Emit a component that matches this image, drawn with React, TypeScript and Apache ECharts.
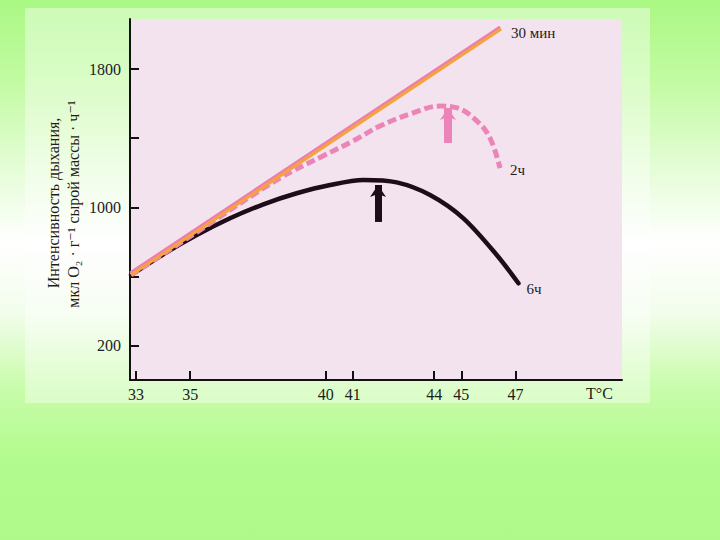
import React, { useEffect, useRef } from 'react';
import * as echarts from 'echarts';

// ---- data ----
const xTickValues = [33, 35, 40, 41, 44, 45, 47];
const yTickValues = [200, 600, 1000, 1400, 1800];
const yLabelValues = [200, 1000, 1800];
const seriesNames = ['30 мин', '2ч', '6ч'];

const temp30min = [32.82, 46.47];
const resp30min = [608, 2032];

const temp2h = [32.82, 35.36, 38.31, 39.9, 41.01, 42.0, 43.22, 44.22, 44.85, 45.58, 46.06, 46.43];
const resp2h = [608, 868, 1169, 1297, 1384, 1470, 1546, 1586, 1575, 1499, 1401, 1227];

const temp6h = [32.82, 34.01, 35.24, 36.47, 37.7, 38.93, 40.16, 41.39, 42.62, 43.85, 45.08, 46.31, 47.11];
const resp6h = [608, 728, 839, 936, 1017, 1081, 1129, 1158, 1144, 1071, 936, 724, 560];

// arrows marking the maxima: [temperature, from, to]
const arrow2h = [44.51, 1372, 1575];
const arrow6h = [41.93, 915, 1129];

const yTitleLine1 = 'Интенсивность дыхания,';
const yTitleLine2 = 'мкл O₂ · г⁻¹ сырой массы · ч⁻¹';
const xTitle = 'T°C';

const X_MIN = 32.78;
const X_MAX = 50.93;
const Y_MIN = 0;
const Y_MAX = 2090;

const FONT = '"Liberation Serif", "DejaVu Serif", serif';
const INK = '#1c1c1c';
const PINK = '#ec84b8';
const BLACK = '#1e0c18';
const ORANGE = '#f3a43c';

const zip = (a: number[], b: number[]) => a.map((v, i) => [v, b[i]]);

export default function App() {
  const ref = useRef<HTMLDivElement>(null);

  useEffect(() => {
    if (!ref.current) return;
    const chart = echarts.init(ref.current, undefined, { renderer: 'svg' });

    const option: any = {
      animation: false,
      backgroundColor: new echarts.graphic.LinearGradient(0, 0, 0, 1, [
        { offset: 0, color: '#aaf884' },
        { offset: 0.15, color: '#c2fba2' },
        { offset: 0.33, color: '#e8fddc' },
        { offset: 0.45, color: '#ffffff' },
        { offset: 0.58, color: '#f2fdeb' },
        { offset: 0.72, color: '#c8fcaa' },
        { offset: 0.85, color: '#b2fb8e' },
        { offset: 1, color: '#aef98a' },
      ]),
      grid: {
        left: 130,
        right: 98,
        top: 19,
        bottom: 160,
        show: true,
        backgroundColor: '#f3e3ef',
        borderWidth: 0,
      },
      xAxis: {
        type: 'value',
        min: X_MIN,
        max: X_MAX,
        axisLine: { show: true, lineStyle: { color: '#111', width: 2 } },
        axisTick: {
          show: true,
          inside: true,
          length: 9,
          lineStyle: { color: '#111', width: 2 },
          customValues: xTickValues,
        },
        axisLabel: {
          customValues: xTickValues,
          formatter: (v: number) => String(v),
          color: INK,
          fontFamily: FONT,
          fontSize: 16,
          margin: 6,
        },
        splitLine: { show: false },
      },
      yAxis: {
        type: 'value',
        min: Y_MIN,
        max: Y_MAX,
        axisLine: { show: true, lineStyle: { color: '#111', width: 2 } },
        axisTick: {
          show: true,
          inside: true,
          length: 9,
          lineStyle: { color: '#111', width: 2 },
          customValues: yTickValues,
        },
        axisLabel: {
          customValues: yLabelValues,
          formatter: (v: number) => String(v),
          color: INK,
          fontFamily: FONT,
          fontSize: 16,
          margin: 9,
        },
        splitLine: { show: false },
      },
      graphic: [
        {
          type: 'rect',
          z: -100,
          shape: { x: 25, y: 8, width: 625, height: 395 },
          style: { fill: 'rgba(255,255,255,0.4)' },
          silent: true,
        },
        {
          type: 'text',
          x: 53,
          y: 203,
          rotation: Math.PI / 2,
          style: {
            text: yTitleLine1,
            fill: INK,
            font: `16px ${FONT}`,
            align: 'center',
            verticalAlign: 'middle',
          },
        },
        {
          type: 'text',
          x: 73,
          y: 204,
          rotation: Math.PI / 2,
          style: {
            text: yTitleLine2,
            fill: INK,
            font: `16px ${FONT}`,
            align: 'center',
            verticalAlign: 'middle',
          },
        },
        {
          type: 'text',
          x: 586,
          y: 393,
          style: {
            text: xTitle,
            fill: INK,
            font: `16px ${FONT}`,
            align: 'left',
            verticalAlign: 'middle',
          },
        },
      ],
      series: [
        {
          name: seriesNames[2],
          type: 'line',
          data: zip(temp6h, resp6h),
          smooth: 0.3,
          showSymbol: false,
          z: 3,
          lineStyle: { color: BLACK, width: 4.5, cap: 'round' },
          endLabel: {
            show: true,
            formatter: '{a}',
            distance: 8,
            offset: [0, 6],
            color: INK,
            fontFamily: FONT,
            fontSize: 15,
          },
          markLine: {
            silent: true,
            symbol: ['none', 'arrow'],
            symbolSize: [12, 12],
            label: { show: false },
            lineStyle: { color: BLACK, width: 7, type: 'solid' },
            data: [
              [
                { coord: [arrow6h[0], arrow6h[1]] },
                { coord: [arrow6h[0], arrow6h[2]] },
              ],
            ],
          },
        },
        {
          name: seriesNames[1],
          type: 'line',
          data: zip(temp2h, resp2h),
          smooth: 0.4,
          showSymbol: false,
          z: 4,
          lineStyle: { color: PINK, width: 5, type: [9, 4] },
          endLabel: {
            show: true,
            formatter: '{a}',
            distance: 10,
            offset: [0, 2],
            color: INK,
            fontFamily: FONT,
            fontSize: 15,
          },
          markLine: {
            silent: true,
            symbol: ['none', 'arrow'],
            symbolSize: [12, 12],
            label: { show: false },
            lineStyle: { color: PINK, width: 8, type: 'solid' },
            data: [
              [
                { coord: [arrow2h[0], arrow2h[1]] },
                { coord: [arrow2h[0], arrow2h[2]] },
              ],
            ],
          },
        },
        {
          name: seriesNames[0],
          type: 'line',
          data: zip(temp30min, resp30min),
          showSymbol: false,
          z: 5,
          lineStyle: {
            color: ORANGE,
            width: 3,
            shadowColor: '#ee7ea6',
            shadowBlur: 1,
            shadowOffsetX: -1,
            shadowOffsetY: -2,
          },
          endLabel: {
            show: true,
            formatter: '{a}',
            distance: 10,
            offset: [0, 4],
            color: INK,
            fontFamily: FONT,
            fontSize: 15,
          },
        },
      ],
    };

    chart.setOption(option);
    return () => chart.dispose();
  }, []);

  return (
    <div
      ref={ref}
      style={{ position: 'fixed', left: 0, top: 0, width: 720, height: 540 }}
    />
  );
}
